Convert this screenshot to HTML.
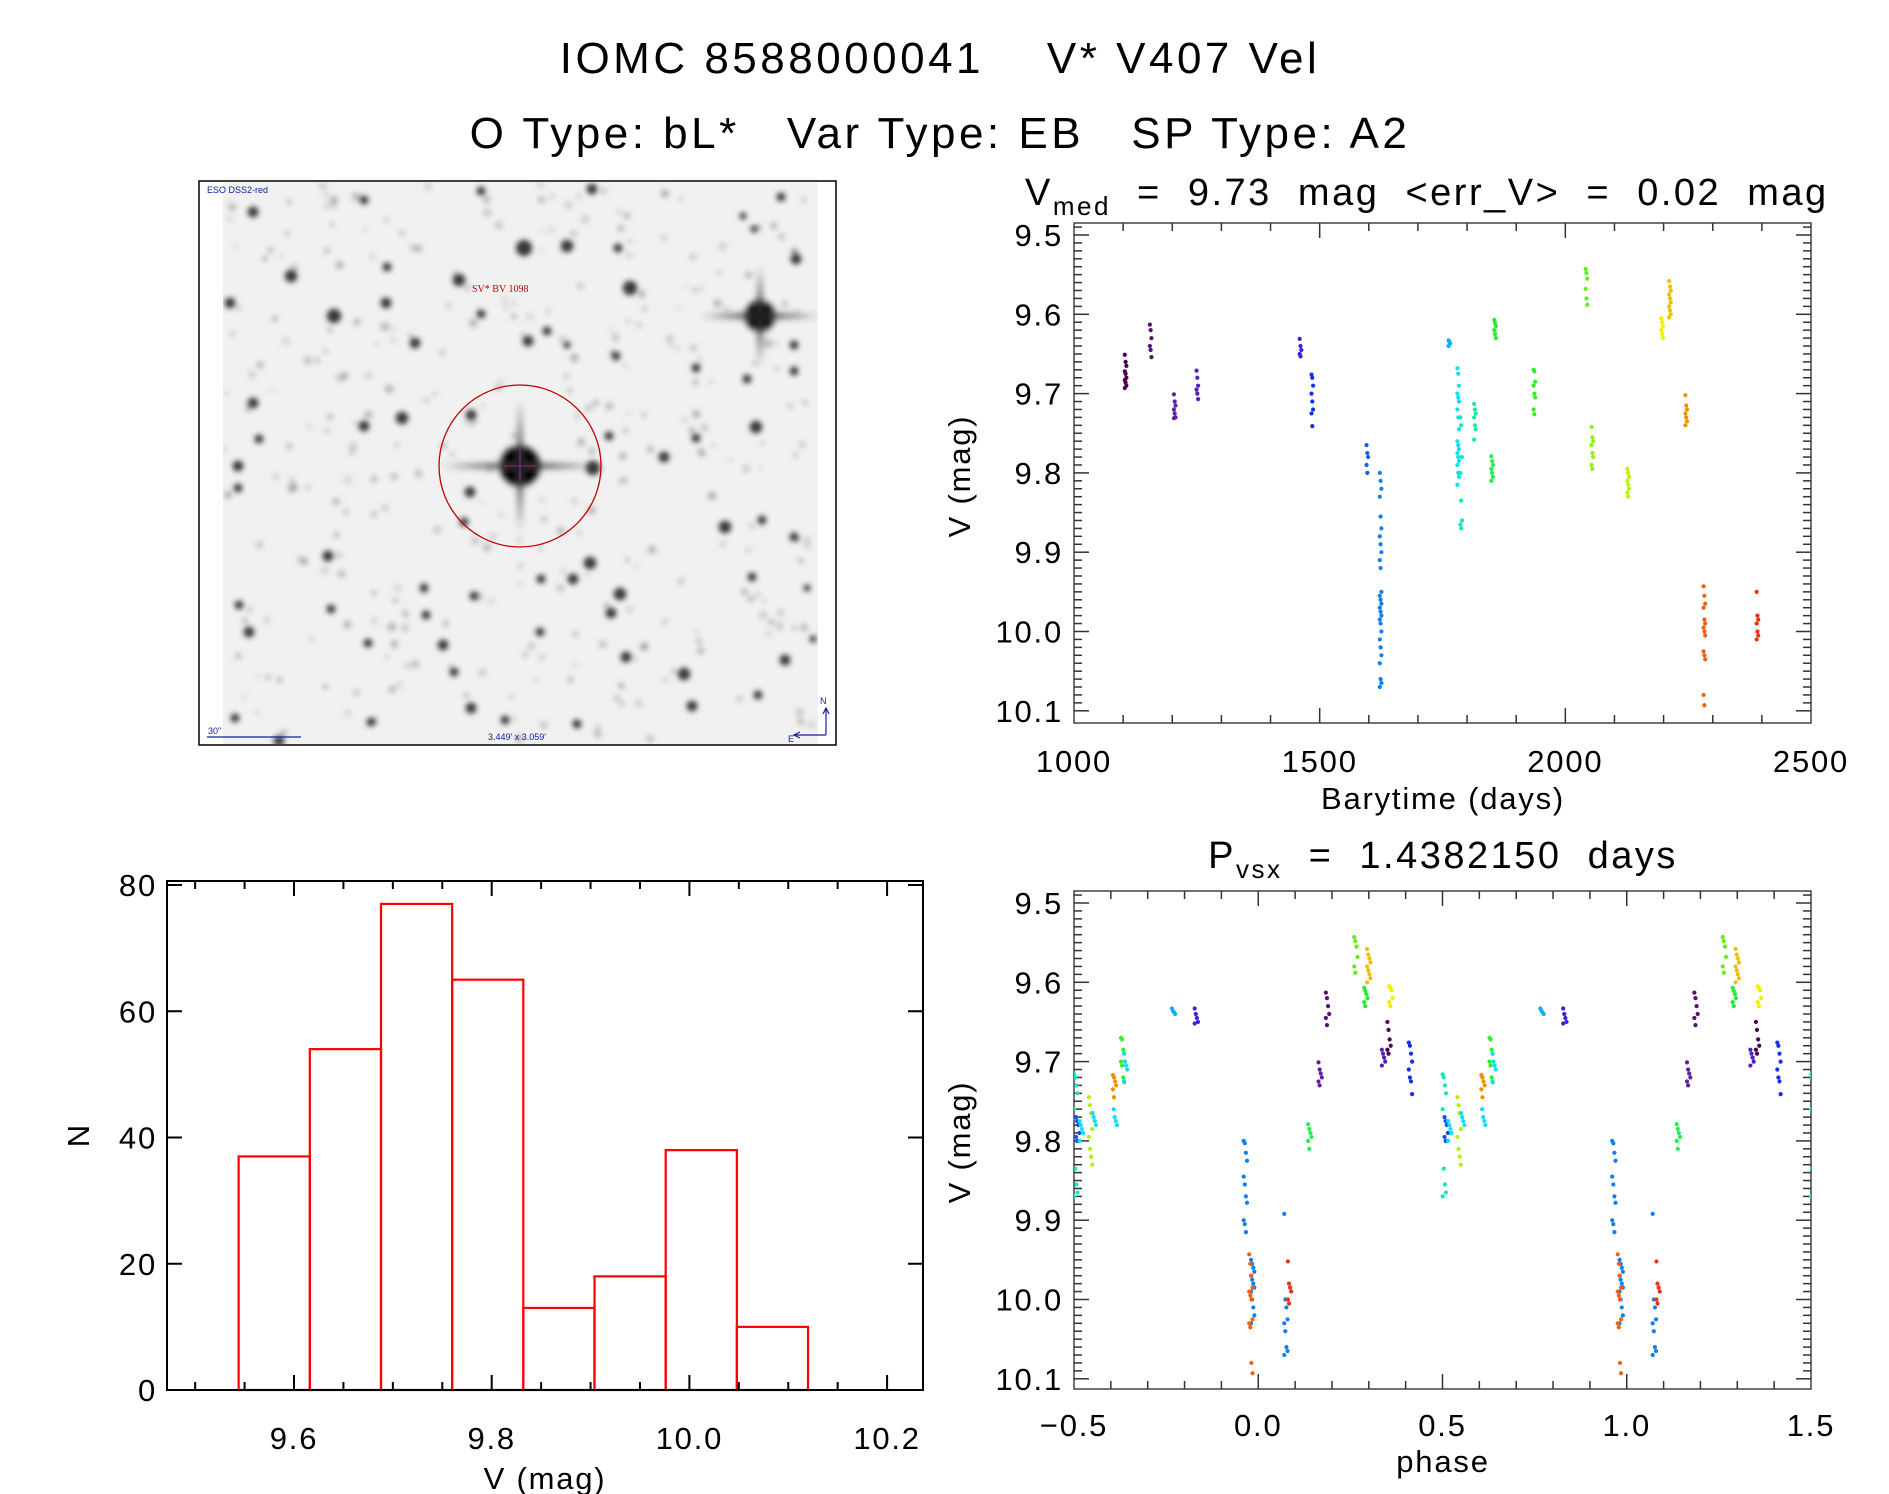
<!DOCTYPE html>
<html><head><meta charset="utf-8"><style>
html,body{margin:0;padding:0;background:#fff;}
svg{display:block;font-family:"Liberation Sans",sans-serif;}
</style></head><body>
<svg id="fig" width="1889" height="1494" viewBox="0 0 1889 1494" xmlns="http://www.w3.org/2000/svg">
<defs>
<filter id="blur2" x="-50%" y="-50%" width="200%" height="200%"><feGaussianBlur stdDeviation="3.5"/></filter>
<filter id="blur1" x="-50%" y="-50%" width="200%" height="200%"><feGaussianBlur stdDeviation="2.6"/></filter>
<clipPath id="imgclip"><rect x="223" y="182" width="595" height="562"/></clipPath>
<clipPath id="lcclip"><rect x="1074" y="223" width="737" height="500"/></clipPath>
<clipPath id="phclip"><rect x="1074" y="891" width="737" height="498"/></clipPath>
</defs>
<text x="940" y="73" font-size="44" text-anchor="middle" letter-spacing="3.5" xml:space="preserve">IOMC 8588000041    V* V407 Vel</text>
<text x="940" y="148" font-size="44" text-anchor="middle" letter-spacing="3.5" xml:space="preserve">O Type: bL*   Var Type: EB   SP Type: A2</text>

<g id="img">
  <rect x="199" y="181" width="637" height="564" fill="#fff" stroke="#000" stroke-width="1.5"/>
  <rect x="223" y="182" width="595" height="562" fill="#f1f1f1"/>
  <g id="stars" clip-path="url(#imgclip)"></g>
  <circle cx="520" cy="466" r="81" fill="none" stroke="#c00000" stroke-width="1.3"/>
  <line x1="504" y1="466" x2="536" y2="466" stroke="#a020a0" stroke-width="1"/>
  <line x1="520" y1="450" x2="520" y2="482" stroke="#a020a0" stroke-width="1"/>
  <text x="472" y="292" font-size="10" fill="#c00000" font-family="Liberation Serif,serif">SV* BV 1098</text>
  <text x="207" y="193" font-size="9" fill="#1020a0">ESO DSS2-red</text>
  <text x="208" y="734" font-size="9" fill="#1020a0">30"</text>
  <line x1="207" y1="737" x2="301" y2="737" stroke="#1020a0" stroke-width="1.2"/>
  <text x="488" y="740" font-size="9" fill="#1020a0">3.449' x 3.059'</text>
  <path d="M826 735 L826 709 M823 714 L826 708 L829 714 M826 735 L795 735 M800 732 L794 735 L800 738" stroke="#1020a0" fill="none" stroke-width="1.2"/>
  <text x="820" y="704" font-size="9" fill="#1020a0">N</text>
  <text x="788" y="742" font-size="9" fill="#1020a0">E</text>
</g>

<g id="lc"></g>
<g id="ph"></g>
<g id="hist"></g>
</svg>
<script>
// ---------- Light-curve data (barytime days, V mag per visit) ----------
const lcTimes = [1105,1156,1205,1251,1461,1485,1597,1624,1764,1782,1788,1816,1851,1857,1937,2043,2055,2128,2197,2213,2246,2283,2391];
const lcMags = [
 [9.651,9.66,9.665,9.672,9.675,9.68,9.683,9.686,9.69,9.693],
 [9.613,9.62,9.63,9.64,9.645,9.654],
 [9.701,9.71,9.715,9.72,9.725,9.73,9.731],
 [9.671,9.68,9.69,9.695,9.7,9.707],
 [9.631,9.64,9.645,9.65,9.653],
 [9.676,9.68,9.69,9.7,9.71,9.72,9.725,9.741],
 [9.765,9.775,9.78,9.79,9.8],
 [9.8,9.81,9.82,9.83,9.855,9.87,9.88,9.89,9.9,9.91,9.92,9.95,9.955,9.96,9.965,9.97,9.975,9.98,9.985,9.99,10.0,10.01,10.02,10.03,10.04,10.06,10.065,10.07],
 [9.633,9.635,9.637,9.64],
 [9.668,9.675,9.69,9.7,9.705,9.71,9.72,9.73,9.745,9.76,9.765,9.77,9.775,9.78,9.785,9.79,9.8,9.805,9.815],
 [9.73,9.74,9.78,9.8,9.835,9.86,9.865,9.87],
 [9.713,9.72,9.725,9.73,9.74,9.745,9.758],
 [9.779,9.785,9.79,9.795,9.8,9.805,9.81],
 [9.607,9.611,9.615,9.62,9.625,9.63],
 [9.67,9.672,9.685,9.69,9.7,9.705,9.72,9.726],
 [9.543,9.548,9.555,9.568,9.58,9.588],
 [9.742,9.755,9.76,9.765,9.775,9.78,9.79,9.795],
 [9.795,9.8,9.805,9.81,9.815,9.82,9.825,9.83],
 [9.605,9.61,9.615,9.62,9.625,9.63],
 [9.558,9.565,9.57,9.575,9.58,9.585,9.59,9.595,9.6,9.604],
 [9.702,9.715,9.72,9.725,9.73,9.735,9.74],
 [9.943,9.955,9.965,9.97,9.985,9.99,9.995,10.0,10.005,10.025,10.03,10.035,10.08,10.093],
 [9.95,9.98,9.985,9.99,10.0,10.005,10.01]
];
const lcColors = ['#4b0050','#5a1070','#6020a0','#5020c0','#3a20e0','#1030f0','#1060f0','#1080f0','#10b0f0','#10e0f0','#10e8c0','#10f0a0','#20f050','#20f030','#30f020','#60f010','#90f010','#c0f010','#f0f000','#f0c000','#f09000','#f06010','#f03010'];
const lcXTicks = [1000,1500,2000,2500];
const magTicks = [9.5,9.6,9.7,9.8,9.9,10.0,10.1];
const magTickLabels = ['9.5','9.6','9.7','9.8','9.9','10.0','10.1'];

// ---------- Phased data ----------
const phPhases = [0.505,0.51,0.52,0.545,0.555,0.61,0.612,0.632,0.64,0.77,0.832,0.965,0.985,0.98,0.075,0.085,0.14,0.168,0.188,0.265,0.3,0.292,0.36,0.34,0.355,0.413];
const phMags = [
 [9.716,9.72,9.73,9.74,9.76,9.835,9.855,9.865,9.87],
 [9.77,9.775,9.78,9.79,9.795,9.8],
 [9.775,9.78,9.785,9.79,9.8],
 [9.745,9.755,9.765,9.785,9.795,9.81,9.82,9.83],
 [9.765,9.77,9.775,9.78],
 [9.717,9.72,9.725,9.73,9.735,9.745],
 [9.76,9.77,9.775,9.78],
 [9.67,9.672,9.685,9.69,9.7,9.705,9.72,9.726],
 [9.69,9.7,9.705,9.71,9.725],
 [9.633,9.636,9.638,9.64],
 [9.633,9.64,9.645,9.65,9.652],
 [9.8,9.803,9.815,9.825,9.845,9.855,9.87,9.878,9.9,9.905,9.915],
 [9.95,9.955,9.96,9.965,9.97,9.975,9.98,9.985,9.99,10.0,10.01,10.02,10.03],
 [9.943,9.955,9.97,9.985,9.99,9.995,10.0,10.025,10.03,10.035,10.08,10.093],
 [9.892,10.0,10.01,10.025,10.03,10.04,10.06,10.065,10.07],
 [9.952,9.98,9.985,9.99,10.0,10.005],
 [9.779,9.785,9.79,9.795,9.8,9.81],
 [9.701,9.71,9.715,9.72,9.725,9.73],
 [9.613,9.62,9.63,9.64,9.645,9.654],
 [9.543,9.548,9.555,9.568,9.58,9.588],
 [9.558,9.565,9.57,9.575,9.58,9.585,9.59,9.595,9.6],
 [9.607,9.611,9.615,9.62,9.625,9.63],
 [9.605,9.607,9.61,9.62,9.625,9.63],
 [9.685,9.69,9.695,9.7,9.705],
 [9.65,9.66,9.672,9.68,9.685,9.69],
 [9.676,9.68,9.69,9.7,9.71,9.72,9.725,9.741]
];
const phColors = ['#10e8c0','#1050f0','#10e0f0','#b0f010','#10e0f0','#f09000','#10e0f0','#30f020','#10e0f0','#10b0f0','#3a20e0','#1080f0','#1080f0','#f06010','#1080f0','#f03010','#20f050','#6020a0','#5a1070','#60f010','#f0c000','#20f030','#f0f000','#5020c0','#4b0050','#1030f0'];
const phXTicks = [-0.5,0.0,0.5,1.0,1.5];
const phXTickLabels = ['\u22120.5','0.0','0.5','1.0','1.5'];

// ---------- Histogram ----------
const binEdges = [9.544,9.616,9.688,9.760,9.832,9.904,9.976,10.048,10.120];
const binCounts = [37,54,77,65,13,18,38,10];
const histXTicks = [9.6,9.8,10.0,10.2];
const histXTickLabels = ['9.6','9.8','10.0','10.2'];
const histYTicks = [0,20,40,60,80];

const NS='http://www.w3.org/2000/svg';
function mk(parent,tag,attrs,text){const e=document.createElementNS(NS,tag);for(const k in attrs)e.setAttribute(k,attrs[k]);if(text!==undefined)e.textContent=text;parent.appendChild(e);return e;}

const lcX = d => 1074 + (d-1000)*(737/1500);
const magY0 = m => 235 + (m-9.5)*793;
const magY1 = m => 903 + (m-9.5)*793;
const phX = p => 1074 + (p+0.5)*(737/2);
const hX = v => 294 + (v-9.6)*(197.7/0.2);
const hY = n => 1390 - n*(505/80);
const LS = 1.8;

function magFrame(g,top,bot,yfun,xmin,xmax,xfun,minorStep,majorStep){
  const L=1074,R=1811;
  const fr=mk(g,'rect',{x:L,y:top,width:R-L,height:bot-top,fill:'none',stroke:'#444','stroke-width':1.5});
  
  
  for(let k=0;k<=62;k++){
    const m=9.48+k*0.01; const mm=Math.round(m*100)/100;
    const y=yfun(mm); if(y<top||y>bot)continue;
    const major=Math.abs(mm*10-Math.round(mm*10))<1e-6;
    const len=major?15:8;
    mk(g,'line',{x1:L,y1:y,x2:L+len,y2:y,stroke:'#333','stroke-width':1.5});
    mk(g,'line',{x1:R,y1:y,x2:R-len,y2:y,stroke:'#333','stroke-width':1.5});
  }
  const n=Math.round((xmax-xmin)/minorStep);
  for(let k=1;k<n;k++){
    const v=xmin+k*minorStep; const x=xfun(v);
    const major=Math.abs(v/majorStep-Math.round(v/majorStep))<1e-6;
    const len=major?15:8;
    mk(g,'line',{x1:x,y1:bot,x2:x,y2:bot-len,stroke:'#333','stroke-width':1.5});
    mk(g,'line',{x1:x,y1:top,x2:x,y2:top+len,stroke:'#333','stroke-width':1.5});
  }
  magTicks.forEach((m,i)=>{
    const t=mk(g,'text',{x:1063,y:yfun(m)+11,'font-size':31,'text-anchor':'end','letter-spacing':LS},magTickLabels[i]);
    
    
  });
}
function dot(g,x,y,c){const d=mk(g,'circle',{cx:x,cy:y,r:2.1,fill:c});}

(function(){
  const g=document.getElementById('lc');
  const t=mk(g,'text',{x:1025,y:205,'font-size':38,'letter-spacing':2.5});
  
  
  t.setAttribute('xml:space','preserve');
  t.innerHTML='V<tspan font-size="26" dy="10">med</tspan><tspan dy="-10" xml:space="preserve">  =  9.73  mag  &lt;err_V&gt;  =  0.02  mag</tspan>';
  magFrame(g,223,723,magY0,1000,2500,lcX,100,500);
  lcXTicks.forEach(v=>{const e=mk(g,'text',{x:lcX(v),y:772,'font-size':31,'text-anchor':'middle','letter-spacing':LS},String(v));});
  const xl=mk(g,'text',{x:1443,y:809,'font-size':31,'text-anchor':'middle','letter-spacing':LS},'Barytime (days)');
  
  const yl=mk(g,'text',{x:0,y:0,'font-size':31,'text-anchor':'middle','letter-spacing':LS,transform:'translate(970,476) rotate(-90)'},'V (mag)');
  
  const pts=mk(g,'g',{'clip-path':'url(#lcclip)'});
  
  lcTimes.forEach((d,i)=>lcMags[i].forEach((m,j)=>dot(pts,lcX(d)+((j%3)-1)*0.8,magY0(m),lcColors[i])));
})();

(function(){
  const g=document.getElementById('ph');
  const t=mk(g,'text',{x:1443,y:868,'font-size':38,'text-anchor':'middle','letter-spacing':2.5});
  
  
  t.setAttribute('xml:space','preserve');
  t.innerHTML='P<tspan font-size="26" dy="10">vsx</tspan><tspan dy="-10" xml:space="preserve">  =  1.4382150  days</tspan>';
  magFrame(g,891,1389,magY1,-0.5,1.5,phX,0.1,0.5);
  phXTicks.forEach((v,i)=>{const e=mk(g,'text',{x:phX(v),y:1436,'font-size':31,'text-anchor':'middle','letter-spacing':LS},phXTickLabels[i]);});
  const xl=mk(g,'text',{x:1443,y:1472,'font-size':31,'text-anchor':'middle','letter-spacing':LS},'phase');
  
  const yl=mk(g,'text',{x:0,y:0,'font-size':31,'text-anchor':'middle','letter-spacing':LS,transform:'translate(970,1142) rotate(-90)'},'V (mag)');
  
  const pts=mk(g,'g',{'clip-path':'url(#phclip)'});
  
  phPhases.forEach((p,i)=>phMags[i].forEach((m,j)=>{
    const off=((j%4)-1.5)*0.003;
    [-1,0,1].forEach(s=>{const ph=p+s+off; if(ph>=-0.505&&ph<=1.505)dot(pts,phX(ph),magY1(m),phColors[i]);});
  }));
})();

(function(){
  const g=document.getElementById('hist');
  const L=167,R=923,T=881,B=1390;
  binCounts.forEach((n,i)=>{
    const x0=hX(binEdges[i]),x1=hX(binEdges[i+1]);
    const r=mk(g,'rect',{x:x0,y:hY(n),width:x1-x0,height:B-hY(n),fill:'none',stroke:'#ff0000','stroke-width':2.2});
    
    
  });
  const fr=mk(g,'rect',{x:L,y:T,width:R-L,height:B-T,fill:'none',stroke:'#000','stroke-width':2});
  
  for(let k=0;k<=15;k++){
    const v=9.5+k*0.05; const x=hX(v); if(x<L+2||x>R-2)continue;
    const major=Math.abs(v*5-Math.round(v*5))<1e-6; const len=major?15:8;
    mk(g,'line',{x1:x,y1:B,x2:x,y2:B-len,stroke:'#000','stroke-width':2});
    mk(g,'line',{x1:x,y1:T,x2:x,y2:T+len,stroke:'#000','stroke-width':2});
  }
  histYTicks.forEach(n=>{
    const y=hY(n);
    mk(g,'line',{x1:L,y1:y,x2:L+15,y2:y,stroke:'#000','stroke-width':2});
    mk(g,'line',{x1:R,y1:y,x2:R-15,y2:y,stroke:'#000','stroke-width':2});
    const e=mk(g,'text',{x:157,y:y+11,'font-size':31,'text-anchor':'end','letter-spacing':LS},String(n));
    
  });
  histXTicks.forEach((v,i)=>{const e=mk(g,'text',{x:hX(v),y:1449,'font-size':31,'text-anchor':'middle','letter-spacing':LS},histXTickLabels[i]);});
  const xl=mk(g,'text',{x:545,y:1489,'font-size':31,'text-anchor':'middle','letter-spacing':LS},'V (mag)');
  
  const yl=mk(g,'text',{x:0,y:0,'font-size':31,'text-anchor':'middle',transform:'translate(89,1136) rotate(-90)'},'N');
  
})();

// ---- finder star field (decorative) ----
(function(){
  const g=document.getElementById('stars');
  const big=[[524,248,9],[567,246,7],[630,288,8],[459,280,7],[334,316,8],[386,303,6],[230,303,6],[253,212,6],[291,276,7],[415,343,6],[528,341,6],[616,356,5],[796,259,6],[794,345,5],[794,371,5],[696,368,5],[747,379,5],[756,427,7],[696,438,5],[664,457,6],[593,468,8],[609,436,5],[471,415,6],[402,418,7],[364,426,6],[253,403,6],[259,439,5],[238,466,6],[238,488,5],[470,492,6],[464,522,5],[725,527,7],[762,520,5],[794,537,5],[590,563,7],[573,579,6],[541,579,5],[620,594,7],[611,613,6],[328,556,6],[424,588,5],[331,609,5],[426,615,5],[474,596,5],[239,605,5],[249,632,6],[443,645,6],[368,643,5],[540,632,5],[684,674,7],[626,657,6],[785,660,6],[752,577,5],[807,588,4],[813,639,4],[758,695,5],[692,706,6],[471,708,6],[454,672,5],[371,722,5],[577,724,5],[505,720,5],[279,741,6],[235,718,5],[481,191,5],[592,189,6],[364,200,5],[781,197,5],[743,216,4],[754,229,4],[618,248,5],[387,267,5],[481,314,5],[547,331,5],[567,345,4]];
  const bright=[[760,316,15],[520,466,20]];
  const fg=mk(g,'g',{filter:'url(#blur1)'});
  let s=12345; const rnd=()=>{s=(s*1103515245+12345)%2147483648;return s/2147483648;};
  for(let i=0;i<320;i++){mk(fg,'circle',{cx:223+rnd()*595,cy:182+rnd()*562,r:2+rnd()*2.5,fill:'#777','fill-opacity':0.2+rnd()*0.35});}
  big.forEach(b=>{mk(fg,'circle',{cx:b[0],cy:b[1],r:b[2]*0.9,fill:'#222','fill-opacity':0.9});});
  const bg=mk(g,'g',{filter:'url(#blur2)'});
  bright.forEach(b=>{
    mk(bg,'circle',{cx:b[0],cy:b[1],r:b[2],fill:'#000'});
    mk(bg,'path',{d:`M${b[0]-b[2]*4} ${b[1]} L${b[0]} ${b[1]-3} L${b[0]+b[2]*4} ${b[1]} L${b[0]} ${b[1]+3}Z M${b[0]} ${b[1]-b[2]*3.3} L${b[0]-3} ${b[1]} L${b[0]} ${b[1]+b[2]*3.3} L${b[0]+3} ${b[1]}Z`,fill:'#333'});
  });
})();
</script>
</body></html>
